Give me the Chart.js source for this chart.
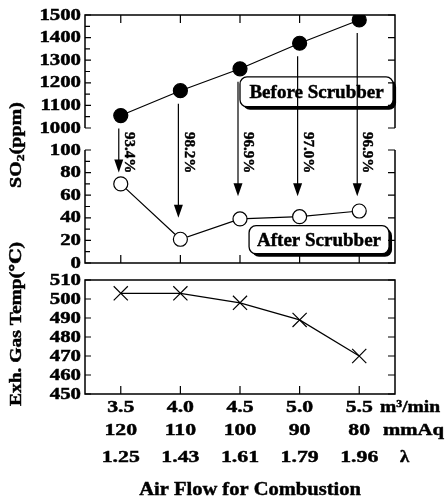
<!DOCTYPE html>
<html>
<head>
<meta charset="utf-8">
<script src="https://cdn.jsdelivr.net/npm/chart.js@4.4.0/dist/chart.umd.min.js"></script>
<style>
  html, body { margin: 0; padding: 0; background: #fff; }
</style>
</head>
<body>
<canvas id="scrubberChart" width="447" height="502"></canvas>
<script>
// air flow for combustion, with the matching fan pressure and excess air ratio
const airFlow = [3.5, 4.0, 4.5, 5.0, 5.5];
const fanPressure = [120, 110, 100, 90, 80];
const lambdaRatio = [1.25, 1.43, 1.61, 1.79, 1.96];
const xUnits = ['m³/min', 'mmAq', 'λ'];

// SO2 (ppm) measured before and after the scrubber
const so2Before = [1055, 1165, 1262, 1375, 1478];
const so2After = [70, 21, 39, 41, 46];
const removalRate = ['93.4%', '98.2%', '96.9%', '97.0%', '96.9%'];
// where each removal arrow ends, in ppm on the lower axis
const arrowStop = [80, 40, 59, 59, 59];

// exhaust gas temperature (deg C)
const exhTemp = [503, 503, 498, 489, 470];

const SERIF = '"Liberation Serif", "Times New Roman", "DejaVu Serif", serif';

// bold serif text, slightly thickened, optionally rotated and stretched
function drawText(ctx, text, x, y, o) {
    ctx.save();
    ctx.translate(x, y);
    if (o.rotate) ctx.rotate(o.rotate);
    ctx.scale(o.sx || 1, 1);
    ctx.font = 'bold ' + o.size + 'px ' + SERIF;
    ctx.textAlign = o.align || 'center';
    ctx.textBaseline = o.baseline || 'middle';
    ctx.fillStyle = '#000';
    ctx.strokeStyle = '#000';
    ctx.lineWidth = 0.45;
    ctx.fillText(text, 0, 0);
    ctx.strokeText(text, 0, 0);
    ctx.restore();
}

// text made of several runs (for subscripts), centred on x,y
function drawRuns(ctx, runs, x, y, rotate, sx) {
    ctx.save();
    ctx.translate(x, y);
    ctx.rotate(rotate);
    ctx.scale(sx, 1);
    ctx.fillStyle = '#000';
    ctx.strokeStyle = '#000';
    ctx.lineWidth = 0.45;
    ctx.textBaseline = 'middle';
    ctx.textAlign = 'left';
    let total = 0;
    runs.forEach(r => {
        ctx.font = 'bold ' + r.size + 'px ' + SERIF;
        r.w = ctx.measureText(r.t).width;
        total += r.w;
    });
    let cx = -total / 2;
    runs.forEach(r => {
        ctx.font = 'bold ' + r.size + 'px ' + SERIF;
        ctx.fillText(r.t, cx, r.dy || 0);
        ctx.strokeText(r.t, cx, r.dy || 0);
        cx += r.w;
    });
    ctx.restore();
}

function roundBox(ctx, x, y, w, h, r) {
    ctx.beginPath();
    ctx.moveTo(x + r, y);
    ctx.lineTo(x + w - r, y);
    ctx.arcTo(x + w, y, x + w, y + r, r);
    ctx.lineTo(x + w, y + h - r);
    ctx.arcTo(x + w, y + h, x + w - r, y + h, r);
    ctx.lineTo(x + r, y + h);
    ctx.arcTo(x, y + h, x, y + h - r, r);
    ctx.lineTo(x, y + r);
    ctx.arcTo(x, y, x + r, y, r);
    ctx.closePath();
}

// frames, inward ticks and all axis text
const framePlugin = {
    id: 'frame',
    afterDraw(chart) {
        const {ctx, chartArea: area, scales} = chart;
        const {x, yTop, yLow, yTemp} = scales;
        const l = area.left, r = area.right;
        const topOf = s => s.getPixelForValue(s.max);
        const botOf = s => s.getPixelForValue(s.min);

        ctx.save();
        ctx.strokeStyle = '#000';
        ctx.lineWidth = 1.5;
        ctx.beginPath();
        // upper panel, side lines broken between 1000 and 100
        ctx.moveTo(l, botOf(yTop)); ctx.lineTo(l, topOf(yTop)); ctx.lineTo(r, topOf(yTop)); ctx.lineTo(r, botOf(yTop));
        ctx.moveTo(l, topOf(yLow)); ctx.lineTo(l, botOf(yLow)); ctx.lineTo(r, botOf(yLow)); ctx.lineTo(r, topOf(yLow));
        // temperature panel
        ctx.rect(l, topOf(yTemp), r - l, botOf(yTemp) - topOf(yTemp));
        ctx.stroke();

        ctx.lineWidth = 1.2;
        ctx.beginPath();
        [yTop, yLow, yTemp].forEach(s => {
            const vals = s.ticks.map(t => t.value);
            vals.forEach((v, i) => {
                const py = s.getPixelForValue(v);
                ctx.moveTo(l, py); ctx.lineTo(l + 6, py);
                ctx.moveTo(r, py); ctx.lineTo(r - 7, py);
                if (s !== yTemp && i > 0) {
                    const pm = s.getPixelForValue((v + vals[i - 1]) / 2);
                    ctx.moveTo(l, pm); ctx.lineTo(l + 5, pm);
                }
            });
        });
        airFlow.forEach(v => {
            const px = x.getPixelForValue(v);
            ctx.moveTo(px, topOf(yTop)); ctx.lineTo(px, topOf(yTop) + 8);
            ctx.moveTo(px, botOf(yLow)); ctx.lineTo(px, botOf(yLow) - 8);
            ctx.moveTo(px, botOf(yTemp)); ctx.lineTo(px, botOf(yTemp) - 8);
        });
        ctx.stroke();
        ctx.restore();

        // y tick labels
        [yTop, yLow, yTemp].forEach(s => {
            s.ticks.forEach(t => {
                drawText(ctx, String(t.value), l - 4, s.getPixelForValue(t.value) + 0.5,
                    {size: 16, sx: 1.3, align: 'right'});
            });
        });

        // three rows of x labels plus their units
        const rows = [airFlow.map(v => v.toFixed(1)), fanPressure.map(String), lambdaRatio.map(v => v.toFixed(2))];
        const rowY = [13.5, 37, 63.5];
        rows.forEach((row, k) => {
            const py = botOf(yTemp) + rowY[k];
            row.forEach((txt, i) => {
                drawText(ctx, txt, x.getPixelForValue(airFlow[i]), py, {size: 17, sx: 1.28});
            });
        });
        drawText(ctx, xUnits[0], r - 15, botOf(yTemp) + rowY[0], {size: 17, sx: 1.15, align: 'left'});
        drawText(ctx, xUnits[1], r - 12, botOf(yTemp) + rowY[1], {size: 17, sx: 1.22, align: 'left'});
        drawText(ctx, xUnits[2], r + 5, botOf(yTemp) + rowY[2], {size: 17, sx: 1.1, align: 'left'});

        drawText(ctx, 'Air Flow for Combustion', 250, 490, {size: 19, sx: 1.08});

        drawRuns(ctx, [{t: 'SO', size: 16}, {t: '2', size: 11, dy: 4}, {t: '(ppm)', size: 16}],
            17, 145, -Math.PI / 2, 1.25);
        drawRuns(ctx, [{t: 'Exh. Gas Temp(℃)', size: 16}], 17, 324, -Math.PI / 2, 1.22);
    }
};

// legend boxes, removal arrows and rates
const notePlugin = {
    id: 'notes',
    afterDatasetsDraw(chart) {
        const {ctx, scales} = chart;
        const {x, yTop, yLow} = scales;

        const boxes = [
            {text: 'Before Scrubber', s: yTop, x0: 4.5, x1: 5.784, y0: 1226, y1: 1094},
            {text: 'After Scrubber', s: yLow, x0: 4.576, x1: 5.75, y0: 33, y1: 8.2}
        ];
        boxes.forEach(b => {
            const bx = x.getPixelForValue(b.x0), bw = x.getPixelForValue(b.x1) - bx;
            const by = b.s.getPixelForValue(b.y0), bh = b.s.getPixelForValue(b.y1) - by;
            ctx.save();
            ctx.fillStyle = '#000';
            roundBox(ctx, bx + 3, by + 3, bw, bh, 7);
            ctx.fill();
            ctx.fillStyle = '#fff';
            ctx.strokeStyle = '#000';
            ctx.lineWidth = 1.3;
            roundBox(ctx, bx, by, bw, bh, 7);
            ctx.fill();
            ctx.stroke();
            ctx.restore();
            drawText(ctx, b.text, bx + bw / 2, by + bh / 2 + 1, {size: 19});
        });

        ctx.save();
        ctx.strokeStyle = '#000';
        ctx.fillStyle = '#000';
        ctx.lineWidth = 1.2;
        airFlow.forEach((v, i) => {
            const px = x.getPixelForValue(v) - 2;
            const y0 = yTop.getPixelForValue(so2Before[i]) + 13;
            const y1 = yLow.getPixelForValue(arrowStop[i]);
            ctx.beginPath();
            ctx.moveTo(px, y0);
            ctx.lineTo(px, y1 - 12);
            ctx.stroke();
            ctx.beginPath();
            ctx.moveTo(px - 4.5, y1 - 13);
            ctx.lineTo(px + 4.5, y1 - 13);
            ctx.lineTo(px, y1);
            ctx.closePath();
            ctx.fill();
            drawText(ctx, removalRate[i], px + 10, yTop.getPixelForValue(yTop.min) + 4,
                {size: 15, rotate: Math.PI / 2, align: 'left'});
        });
        ctx.restore();
    }
};

const hidden = {
    grid: {display: false},
    border: {display: false}
};

new Chart(document.getElementById('scrubberChart'), {
    type: 'line',
    data: {
        datasets: [
            {
                label: 'Before Scrubber',
                data: airFlow.map((v, i) => ({x: v, y: so2Before[i]})),
                yAxisID: 'yTop',
                borderColor: '#000',
                borderWidth: 1.2,
                pointRadius: 7,
                pointBackgroundColor: '#000',
                pointBorderColor: '#000'
            },
            {
                label: 'After Scrubber',
                data: airFlow.map((v, i) => ({x: v, y: so2After[i]})),
                yAxisID: 'yLow',
                borderColor: '#000',
                borderWidth: 1.2,
                pointRadius: 7,
                pointBackgroundColor: '#fff',
                pointBorderColor: '#000',
                pointBorderWidth: 1.2
            },
            {
                label: 'Exh. Gas Temp',
                data: airFlow.map((v, i) => ({x: v, y: exhTemp[i]})),
                yAxisID: 'yTemp',
                borderColor: '#000',
                borderWidth: 1.2,
                pointStyle: 'crossRot',
                pointRadius: 10,
                pointBorderColor: '#000',
                pointBorderWidth: 1.2
            }
        ]
    },
    options: {
        responsive: false,
        animation: false,
        layout: {padding: {left: 85, right: 52, top: 15, bottom: 108}},
        plugins: {legend: {display: false}, tooltip: {enabled: false}},
        scales: {
            x: {
                type: 'linear', min: 3.2, max: 5.8,
                ...hidden, ticks: {display: false},
                afterFit: s => { s.height = 0; }
            },
            yTop: {
                type: 'linear', position: 'left', stack: 'y', stackWeight: 113, weight: 5,
                min: 1000, max: 1500, ...hidden, ticks: {display: false, stepSize: 100},
                afterFit: s => { s.width = 0; }
            },
            yGap: {
                type: 'linear', position: 'left', stack: 'y', stackWeight: 22, weight: 4,
                ...hidden, ticks: {display: false},
                afterFit: s => { s.width = 0; }
            },
            yLow: {
                type: 'linear', position: 'left', stack: 'y', stackWeight: 113, weight: 3,
                min: 0, max: 100, ...hidden, ticks: {display: false, stepSize: 20},
                afterFit: s => { s.width = 0; }
            },
            yGap2: {
                type: 'linear', position: 'left', stack: 'y', stackWeight: 17, weight: 2,
                ...hidden, ticks: {display: false},
                afterFit: s => { s.width = 0; }
            },
            yTemp: {
                type: 'linear', position: 'left', stack: 'y', stackWeight: 114, weight: 1,
                min: 450, max: 510, ...hidden, ticks: {display: false, stepSize: 10},
                afterFit: s => { s.width = 0; }
            }
        }
    },
    plugins: [framePlugin, notePlugin]
});
</script>
</body>
</html>
